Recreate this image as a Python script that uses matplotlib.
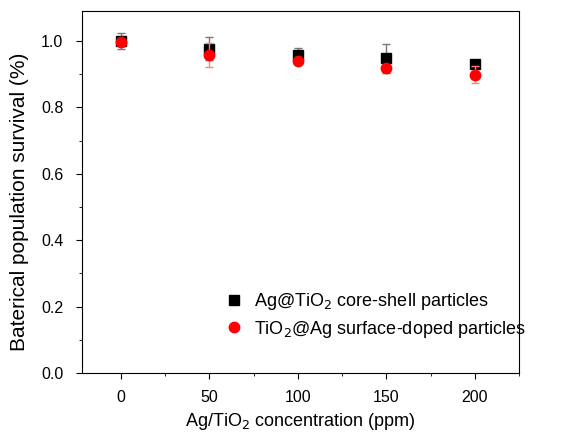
import matplotlib
matplotlib.use("Agg")
import matplotlib.pyplot as plt
from matplotlib.ticker import MultipleLocator

plt.rcParams['font.family'] = ['Liberation Sans', 'DejaVu Sans']

conc = [0, 50, 100, 150, 200]
core_shell = [1.0, 0.977, 0.958, 0.948, 0.930]
core_shell_err = [0.023, 0.035, 0.022, 0.044, 0.013]
surface_doped = [0.997, 0.958, 0.938, 0.918, 0.898]
surface_doped_err = [0.01, 0.037, 0.006, 0.006, 0.026]

fig = plt.figure(figsize=(5.76, 4.36), dpi=100)
ax = fig.add_axes([82/576, 1 - 373/436, (519 - 82)/576, (373 - 11)/436])

ax.errorbar(conc, core_shell, yerr=core_shell_err, fmt='s', color='black',
            ecolor='#777777', elinewidth=1.0, capsize=3, capthick=1.0,
            markersize=7, label=r'Ag@TiO$_2$ core-shell particles', zorder=3)
ax.errorbar(conc, surface_doped, yerr=surface_doped_err, fmt='o', color='#ff0000',
            ecolor='#ff8080', elinewidth=1.0, capsize=3, capthick=1.0,
            markersize=7.5, label=r'TiO$_2$@Ag surface-doped particles', zorder=4)

ax.set_xlim(-22, 225)
ax.set_ylim(0, 1.09)
ax.xaxis.set_major_locator(MultipleLocator(50))
ax.xaxis.set_minor_locator(MultipleLocator(25))
ax.yaxis.set_major_locator(MultipleLocator(0.2))
ax.yaxis.set_minor_locator(MultipleLocator(0.1))
ax.yaxis.set_major_formatter(plt.FuncFormatter(lambda v, p: f"{v:.1f}"))
ax.tick_params(which='major', direction='out', length=4.5, labelsize=11.5)
ax.tick_params(axis='y', which='major', pad=9)
ax.tick_params(axis='x', which='major', pad=8)
ax.tick_params(which='minor', direction='out', length=2.5)

ax.set_xlabel(r'Ag/TiO$_2$ concentration (ppm)', fontsize=13, labelpad=4)
ax.set_ylabel('Baterical population survival (%)', fontsize=15)
ax.yaxis.set_label_coords(-0.121, 0.472)

handles, labels = ax.get_legend_handles_labels()
handles = [h[0] for h in handles]
ax.legend(handles, labels, loc='lower left', bbox_to_anchor=(0.291, 0.047),
          frameon=False, fontsize=13, handletextpad=0.6, labelspacing=0.35,
          handlelength=1.0)

fig.savefig('out.png', dpi=100)
